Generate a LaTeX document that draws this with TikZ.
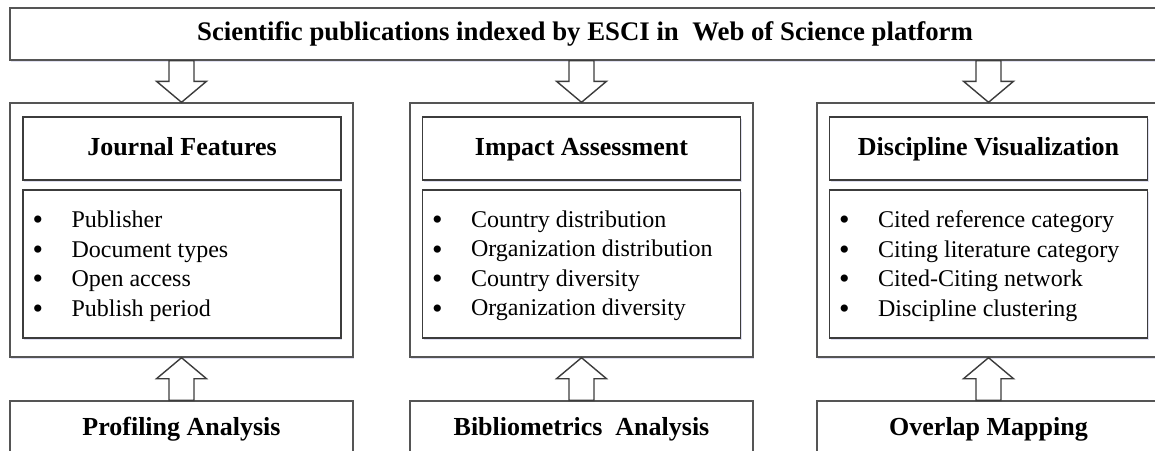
\documentclass[tikz,border=0pt]{standalone}
\usepackage{fontspec}
\setmainfont{Liberation Serif}
\usetikzlibrary{calc,shadows}

\definecolor{edgec}{RGB}{60,60,60}
\definecolor{outerc}{RGB}{85,85,85}

\newcommand{\fatarrow}[2]{%
  \coordinate (hb) at ($(#2)!10.5pt!(#1)$);
  \draw[fatarr] let \p1=(#1), \p2=(#2), \p3=(hb) in
    (\x1-6.25pt,\y1) -- (\x1-6.25pt,\y3) -- (\x1-12.5pt,\y3) -- (\x2,\y2)
    -- (\x1+12.5pt,\y3) -- (\x1+6.25pt,\y3) -- (\x1+6.25pt,\y1) -- cycle;}

\begin{document}
\begin{tikzpicture}[x=0.5pt,y=-0.5pt,
    shade/.style={drop shadow={shadow xshift=0.5pt,shadow yshift=-0.9pt,
        fill=blue!40!gray!35,opacity=0.5}},
    outerbox/.style={draw=outerc,line width=0.7pt,fill=white,shade,
        minimum width=171.5pt,minimum height=127pt,inner sep=0pt},
    titlebox/.style={draw=edgec,line width=0.8pt,fill=white,shade,
        minimum width=159pt,minimum height=31.5pt,inner sep=0pt,
        text height=9.5pt,text depth=3pt,
        font=\fontsize{13}{15}\selectfont\bfseries},
    listbox/.style={draw=edgec,line width=0.8pt,fill=white,shade,
        minimum width=159pt,minimum height=74pt,inner sep=0pt},
    items/.style={anchor=west,align=left,inner sep=0pt,
        font=\fontsize{12}{14.75}\selectfont},
    basebox/.style={draw=outerc,line width=0.7pt,fill=white,shade,
        minimum width=171.5pt,minimum height=27.5pt,inner sep=0pt,
        text height=9.5pt,text depth=3pt,
        font=\fontsize{13}{15}\selectfont\bfseries},
    fatarr/.style={draw=edgec,line width=0.7pt,fill=white,line join=miter}]
  \useasboundingbox (0,0) rectangle (1155,450);
  \clip (0,0) rectangle (1155,450);
  \newcommand{\bl}{\makebox[19.5pt][l]{\raisebox{-1.1pt}{\scalebox{1.25}{\textbullet}}}}

  \node[basebox,minimum width=575pt,minimum height=26pt,
        font=\fontsize{13.4}{15}\selectfont\bfseries] (wos) at (585,34)
        {Scientific publications indexed by ESCI in\ \ Web of Science platform};

  \node[outerbox] (prof) at (181.5,230) {};
  \node[titlebox] (jf) at (182,148.5) {Journal Features};
  \node[listbox] (jfl) at (182,264) {};
  \node[items] (jfi) at ([xshift=5pt,yshift=-1pt]jfl.west)
        {\bl Publisher\\ \bl Document types\\ \bl Open access\\ \bl Publish period};
  \node[basebox] (pa) at (181.5,428.5) {Profiling Analysis};

  \node[outerbox] (bib) at (581.5,230) {};
  \node[titlebox] (ia) at (581.5,148.5) {Impact Assessment};
  \node[listbox] (ial) at (581.5,264) {};
  \node[items] (iai) at ([xshift=5pt,yshift=-1pt]ial.west)
        {\bl Country distribution\\ \bl Organization distribution\\
         \bl Country diversity\\ \bl Organization diversity};
  \node[basebox] (ba) at (581.5,428.5) {Bibliometrics\ \ Analysis};

  \node[outerbox] (ovl) at (988.5,230) {};
  \node[titlebox] (dv) at (988.5,148.5) {Discipline Visualization};
  \node[listbox] (dvl) at (988.5,264) {};
  \node[items] (dvi) at ([xshift=5pt,yshift=-1pt]dvl.west)
        {\bl Cited reference category\\ \bl Citing literature category\\
         \bl Cited-Citing network\\ \bl Discipline clustering};
  \node[basebox] (om) at (988.5,428.5) {Overlap Mapping};

  \fatarrow{wos.south -| prof.north}{prof.north}
  \fatarrow{wos.south -| bib.north}{bib.north}
  \fatarrow{wos.south -| ovl.north}{ovl.north}
  \fatarrow{pa.north}{prof.south}
  \fatarrow{ba.north}{bib.south}
  \fatarrow{om.north}{ovl.south}
\end{tikzpicture}
\end{document}
